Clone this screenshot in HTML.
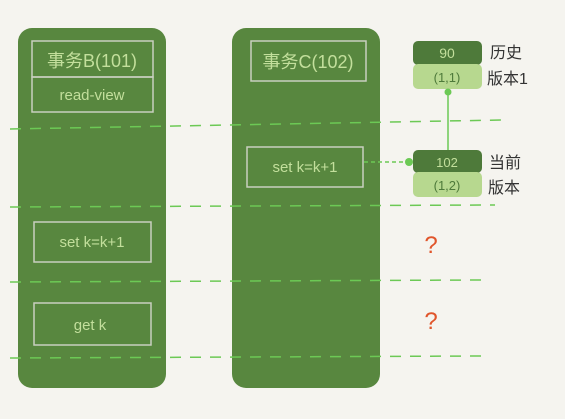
<!DOCTYPE html>
<html><head><meta charset="utf-8"><style>
html,body{margin:0;padding:0;background:#f5f4ef;}
svg{display:block}
text{font-family:"Liberation Sans","Noto Sans CJK SC",sans-serif;}
</style></head><body>
<svg width="565" height="419" viewBox="0 0 565 419">
<rect width="565" height="419" fill="#f5f4ef"/>
<g>
<rect x="18" y="28" width="148" height="360" rx="14" fill="#58873f"/>
<rect x="32" y="41" width="121" height="36" fill="none" stroke="#c9cfc0" stroke-width="1.5"/>
<text x="92" y="67" text-anchor="middle" font-size="18" fill="#c3df9c">事务B(101)</text>
<rect x="32" y="77" width="121" height="35" fill="none" stroke="#c9cfc0" stroke-width="1.5"/>
<text x="92" y="100" text-anchor="middle" font-size="15" fill="#c3df9c">read-view</text>
<rect x="34" y="222" width="117" height="40" fill="none" stroke="#c9cfc0" stroke-width="1.5"/>
<text x="92" y="247" text-anchor="middle" font-size="15" fill="#c3df9c">set k=k+1</text>
<rect x="34" y="303" width="117" height="42" fill="none" stroke="#c9cfc0" stroke-width="1.5"/>
<text x="90" y="330" text-anchor="middle" font-size="15" fill="#c3df9c">get k</text>
</g>
<g>
<rect x="232" y="28" width="148" height="360" rx="14" fill="#58873f"/>
<rect x="251" y="41" width="115" height="40" fill="none" stroke="#c9cfc0" stroke-width="1.5"/>
<text x="308" y="68" text-anchor="middle" font-size="18" fill="#c3df9c">事务C(102)</text>
<rect x="247" y="147" width="116" height="40" fill="none" stroke="#c9cfc0" stroke-width="1.5"/>
<text x="305" y="172" text-anchor="middle" font-size="15" fill="#c3df9c">set k=k+1</text>
</g>
<g stroke="#6cc955" stroke-width="1.5" stroke-dasharray="11,9" fill="none">
<line x1="10" y1="129" x2="501" y2="120"/>
<line x1="10" y1="207" x2="495" y2="205"/>
<line x1="10" y1="282" x2="482" y2="280"/>
<line x1="10" y1="358" x2="482" y2="356"/>
</g>
<g>
<rect x="413" y="41" width="69" height="24" rx="5" fill="#4e7a3a"/>
<text x="447" y="58" text-anchor="middle" font-size="14" fill="#c3df9c">90</text>
<rect x="413" y="64" width="69" height="25" rx="5" fill="#b7d88f"/>
<text x="447" y="82" text-anchor="middle" font-size="13" fill="#4e7a3a">(1,1)</text>
<text x="490" y="58" font-size="16" fill="#333">历史</text>
<text x="487" y="84" font-size="16" fill="#333">版本1</text>
</g>
<g>
<rect x="413" y="150" width="69" height="23" rx="5" fill="#4e7a3a"/>
<text x="447" y="167" text-anchor="middle" font-size="13" fill="#c3df9c">102</text>
<rect x="413" y="172" width="69" height="25" rx="5" fill="#b7d88f"/>
<text x="447" y="190" text-anchor="middle" font-size="13" fill="#4e7a3a">(1,2)</text>
<text x="489" y="168" font-size="16" fill="#333">当前</text>
<text x="488" y="193" font-size="16" fill="#333">版本</text>
</g>
<g>
<line x1="448" y1="91" x2="448" y2="150" stroke="#6cc955" stroke-width="1.5"/>
<circle cx="448" cy="92" r="3.5" fill="#6cc955"/>
<line x1="364" y1="162" x2="410" y2="162" stroke="#6cc955" stroke-width="1.5" stroke-dasharray="4,3"/>
<circle cx="409" cy="162" r="4" fill="#6cc955"/>
</g>
<text x="431" y="253" text-anchor="middle" font-size="24" fill="#e0552b">?</text>
<text x="431" y="329" text-anchor="middle" font-size="24" fill="#e0552b">?</text>
</svg>
</body></html>
